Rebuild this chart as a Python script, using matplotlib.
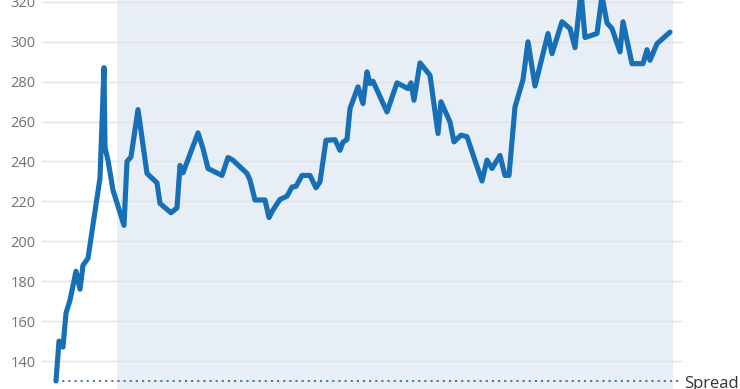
import matplotlib.pyplot as plt

# time index (arbitrary units) and spread values
t = [0, 3, 7, 10, 14, 20, 24, 27, 32, 36, 44, 48, 49, 52, 57, 68, 71, 75, 82,
     91, 94, 101, 104, 115, 121, 124, 127, 142, 147, 152, 166, 172, 177, 191,
     194, 199, 209, 213, 217, 224, 231, 236, 240, 246, 254, 260, 264, 270, 279,
     284, 287, 291, 294, 302, 307, 311, 314, 317, 331, 341, 352, 355, 358, 364,
     374, 382, 385, 394, 398, 405, 411, 420, 426, 431, 436, 444, 449, 453, 459,
     467, 472, 479, 492, 496, 506, 514, 519, 525, 529, 541, 546, 551, 556, 564,
     567, 576, 587, 591, 594, 601, 614]
spread = [130, 150, 147, 164, 170.5, 185, 176, 188, 191.5, 205, 231.7, 287, 247,
          240.6, 225.6, 208, 240, 242.3, 266, 234, 232.6, 229.3, 219, 214.3,
          216.8, 238, 234.3, 254.3, 246.5, 236.5, 233, 242, 240.6, 234, 230.7,
          220.7, 220.7, 211.9, 215.7, 221, 222.6, 227.2, 227.5, 233, 233, 226.8,
          229.8, 250.6, 250.9, 245.6, 249.7, 251, 266.5, 277.4, 269, 284.9, 279,
          280.2, 264.8, 279.4, 276.5, 279.4, 270.7, 289.4, 283.2, 254, 269.9,
          259.8, 249.8, 253.2, 252.4, 239, 230.2, 240.7, 236.5, 243, 233, 233,
          267.3, 281, 300, 277.8, 304.1, 294, 310, 306.6, 297, 325, 302.1, 304.1,
          323, 309.4, 306.6, 294.9, 310, 289, 289, 296, 290.7, 299, 304.8]

shade_start, shade_end = 61, 617
baseline = 130
yticks = [140, 160, 180, 200, 220, 240, 260, 280, 300, 320]

plt.rcParams['font.family'] = ['Open Sans', 'DejaVu Sans']

fig = plt.figure(figsize=(7.4, 3.89), dpi=100)
ax = fig.add_axes([42 / 740, 0, (683 - 42) / 740, 1])

ax.axvspan(shade_start, shade_end, color='#e8eef6', zorder=0, lw=0)
for y in yticks:
    ax.axhline(y, color='#e2e2e2', lw=1, zorder=1)

ax.plot([0, 625], [baseline, baseline], color='#3f6f98', lw=1.3,
        linestyle=(0, (1.2, 2.2)), zorder=2)
ax.plot(t, spread, color='#176fb6', lw=3.7, solid_joinstyle='round',
        solid_capstyle='round', zorder=3)

ax.text(628, 126.3, 'Spread', fontsize=12, color='#333333', va='baseline',
        ha='left', clip_on=False)

ax.set_xlim(-14, 627)
ax.set_ylim(126.0, 320.9)
ax.set_yticks(yticks)
ax.set_xticks([])
ax.tick_params(axis='y', length=0, pad=4.5, labelsize=10.5, labelcolor='#707070')
for s in ax.spines.values():
    s.set_visible(False)
ax.patch.set_alpha(0)

fig.savefig('out.png', dpi=100)
